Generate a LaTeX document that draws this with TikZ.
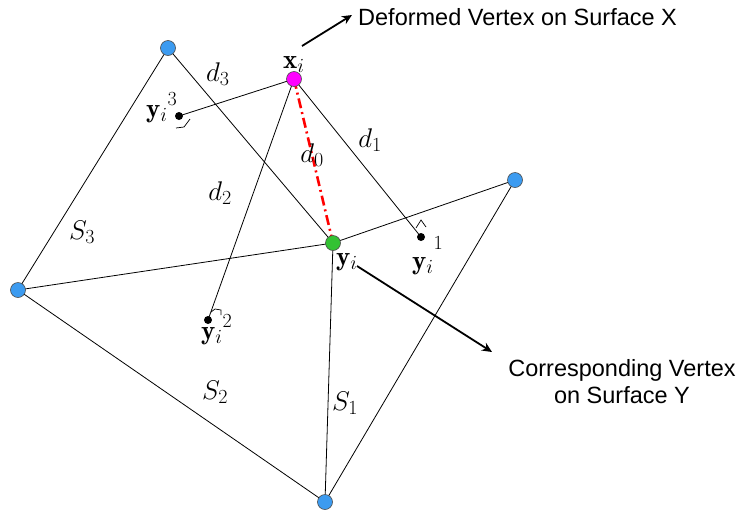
\RequirePackage{fix-cm}
\documentclass[tikz,border=0pt]{standalone}
\usepackage{fontspec}
\newfontfamily\annot{Liberation Sans}
\usetikzlibrary{arrows.meta}
\DeclareMathSizes{27}{27}{20}{15}
\definecolor{vblue}{HTML}{3C9BF0}
\definecolor{vgreen}{HTML}{33C233}
\definecolor{vmag}{HTML}{FF00FF}
\newcommand{\supr}[2]{\raisebox{#1}{\fontsize{20}{22}\selectfont #2}}
\begin{document}
\begin{tikzpicture}[x=1pt,y=-1pt,
  vert/.style={circle,draw=black!70,line width=0.6pt,minimum size=15pt,inner sep=0pt},
  foot/.style={circle,fill=black,minimum size=8pt,inner sep=0pt},
  edge/.style={line width=0.8pt},
  mk/.style={line width=0.7pt},
  lbl/.style={font=\fontsize{27}{30}\selectfont,inner sep=0pt},
  ann/.style={font=\annot\fontsize{23.5}{27}\selectfont,align=center,inner sep=0pt},
  callout/.style={line width=1.8pt,-{Stealth[length=10pt,width=9pt]}}]
\useasboundingbox (0,0) rectangle (742,512);
% coordinates
\coordinate (pA) at (168,48);
\coordinate (pB) at (18,290);
\coordinate (pC) at (325,502);
\coordinate (pD) at (515,180);
\coordinate (pY) at (333,243);
\coordinate (pX) at (294,79);
% edges
\draw[edge] (pA) -- (pB) -- (pC) -- (pD);
\draw[edge] (pA) -- (pY);
\draw[edge] (pB) -- (pY);
\draw[edge] (pC) -- (pY);
\draw[edge] (pD) -- (pY);
% feet
\node[foot] (f1) at (421,237) {};
\node[foot] (f2) at (208,320) {};
\node[foot] (f3) at (179,116) {};
\draw[edge] (pX) -- (f1.center);
\draw[edge] (pX) -- (f2.center);
\draw[edge] (pX) -- (f3.center);
% right-angle marks
\draw[mk] (416,228) -- (421,220) -- (426,227);
\draw[mk] (211,312) -- (215,309) -- (221,310) -- (221,315);
\draw[mk] (190,119) -- (184,127) -- (176,128);
% red distance
\draw[red,line width=2.6pt,dash pattern=on 10pt off 4pt on 2pt off 4pt] (pX) -- (pY);
% vertices
\node[vert,fill=vblue] (A) at (pA) {};
\node[vert,fill=vblue] (B) at (pB) {};
\node[vert,fill=vblue] (C) at (pC) {};
\node[vert,fill=vblue] (D) at (pD) {};
\node[vert,fill=vgreen] (Y) at (pY) {};
\node[vert,fill=vmag] (X) at (pX) {};
% labels
\node[lbl,anchor=base west] (lx) at (283,68) {$\mathbf{x}_i$};
\node[lbl,anchor=base west] (ly) at (336,265) {$\mathbf{y}_i$};
\node[lbl,anchor=base west] (ly1) at (412,269) {$\mathbf{y}_i\supr{20pt}{1}$};
\node[lbl,anchor=base west] (ly2) at (201,339) {$\mathbf{y}_i\supr{12pt}{2}$};
\node[lbl,anchor=base west] (ly3) at (146,117) {$\mathbf{y}_i\supr{12pt}{3}$};
\node[lbl,anchor=base west] (d3) at (206,81) {$d_3$};
\node[lbl] (d0) at (312,155) {$d_0$};
\node[lbl] (d1) at (370,140) {$d_1$};
\node[lbl] (d2) at (220,193) {$d_2$};
\node[lbl] (s3) at (82,232) {$S_3$};
\node[lbl] (s2) at (215,392) {$S_2$};
\node[lbl] (s1) at (345,403) {$S_1$};
% annotations
\node[ann,anchor=west] (t1) at (358,17) {Deformed Vertex on Surface X};
\node[ann] (t2) at (622,382) {Corresponding Vertex\\on Surface Y};
\coordinate (a1) at (302,46);
\coordinate (a1e) at (352,15);
\coordinate (a2) at (357,266);
\coordinate (a2e) at (492,352);
\draw[callout] (a1) -- (a1e);
\draw[callout] (a2) -- (a2e);
\end{tikzpicture}
\end{document}
